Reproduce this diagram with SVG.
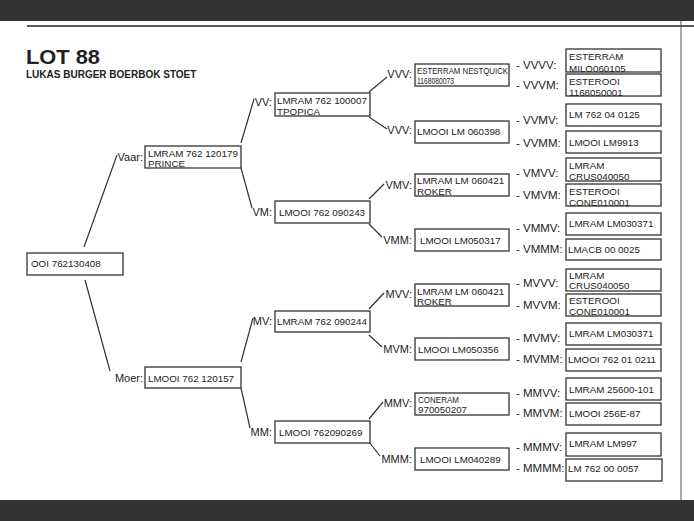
<svg xmlns="http://www.w3.org/2000/svg" width="694" height="521" viewBox="0 0 694 521">
<style>
text{font-family:"Liberation Sans",Arial,sans-serif;fill:#222}
.t{font-size:9.8px}
.l{font-size:11px}
.r{font-size:11.5px}
.b{fill:#fff;stroke:#333;stroke-width:1.3}
.c{stroke:#333;stroke-width:1.2;fill:none}
</style>
<rect x="0" y="0" width="694" height="21" fill="#333"/>
<rect x="0" y="500" width="694" height="21" fill="#333"/>
<line x1="27" y1="26" x2="694" y2="26" stroke="#222" stroke-width="1.5"/>
<line x1="681" y1="21" x2="681" y2="500" stroke="#555" stroke-width="1"/>
<text x="26" y="64" font-size="21" font-weight="bold" textLength="74" lengthAdjust="spacingAndGlyphs">LOT 88</text>
<text x="26" y="78" font-size="10" font-weight="bold">LUKAS BURGER BOERBOK STOET</text>

<g id="connectors" class="c">
<line x1="84" y1="247" x2="117" y2="155"/>
<line x1="85" y1="280" x2="110" y2="371"/>
<line x1="241" y1="143" x2="254" y2="99"/>
<line x1="241" y1="168" x2="252" y2="208"/>
<line x1="241" y1="362" x2="253" y2="318"/>
<line x1="241" y1="388" x2="250" y2="428"/>
<line x1="369" y1="92" x2="387" y2="77"/>
<line x1="369" y1="117" x2="387" y2="129"/>
<line x1="369" y1="199" x2="384" y2="184"/>
<line x1="369" y1="224" x2="382" y2="237"/>
<line x1="369" y1="309" x2="384" y2="293"/>
<line x1="369" y1="335" x2="382" y2="347"/>
<line x1="369" y1="419" x2="383" y2="402"/>
<line x1="369" y1="442" x2="380" y2="456"/>
</g>

<g id="root"><rect class="b" x="27" y="253" width="96" height="22"/><text class="t" x="31" y="267">OOI 762130408</text></g>

<g id="vaar"><text class="l" x="143" y="161" text-anchor="end">Vaar:</text><rect class="b" x="145" y="146" width="96" height="22"/><text class="t" x="148" y="157">LMRAM 762 120179</text><text class="t" x="148" y="167">PRINCE</text></g>
<g id="moer"><text class="l" x="143" y="382" text-anchor="end">Moer:</text><rect class="b" x="145" y="367" width="96" height="21"/><text class="t" x="148" y="382">LMOOI 762 120157</text></g>

<g id="vv"><text class="l" x="272" y="106" text-anchor="end">VV:</text><rect class="b" x="275" y="93" width="95" height="23"/><text class="t" x="277" y="104">LMRAM 762 100007</text><text class="t" x="277" y="115">TPOPICA</text></g>
<g id="vm"><text class="l" x="272" y="216" text-anchor="end">VM:</text><rect class="b" x="275" y="201" width="95" height="22"/><text class="t" x="279" y="216">LMOOI 762 090243</text></g>
<g id="mv"><text class="l" x="272" y="325" text-anchor="end">MV:</text><rect class="b" x="275" y="311" width="95" height="21"/><text class="t" x="277" y="325">LMRAM 762 090244</text></g>
<g id="mm"><text class="l" x="272" y="436" text-anchor="end">MM:</text><rect class="b" x="275" y="421" width="95" height="22"/><text class="t" x="279" y="436">LMOOI 762090269</text></g>

<g id="vvv"><text class="l" x="412" y="78" text-anchor="end">VVV:</text><rect class="b" x="415" y="64" width="94" height="22"/><text x="417" y="74" font-size="9.5" textLength="91" lengthAdjust="spacingAndGlyphs">ESTERRAM NESTQUICK</text><text x="417" y="84" font-size="9.5" textLength="37" lengthAdjust="spacingAndGlyphs">1168080073</text></g>
<g id="vvm"><text class="l" x="412" y="134" text-anchor="end">VVV:</text><rect class="b" x="415" y="121" width="94" height="22"/><text class="t" x="417" y="135">LMOOI LM 060398</text></g>
<g id="vmv"><text class="l" x="412" y="189" text-anchor="end">VMV:</text><rect class="b" x="415" y="174" width="94" height="22"/><text class="t" x="417" y="184">LMRAM LM 060421</text><text class="t" x="417" y="195">ROKER</text></g>
<g id="vmm"><text class="l" x="412" y="244" text-anchor="end">VMM:</text><rect class="b" x="415" y="229" width="94" height="22"/><text class="t" x="420" y="244">LMOOI LM050317</text></g>
<g id="mvv"><text class="l" x="412" y="298" text-anchor="end">MVV:</text><rect class="b" x="415" y="284" width="94" height="22"/><text class="t" x="417" y="295">LMRAM LM 060421</text><text class="t" x="417" y="305">ROKER</text></g>
<g id="mvm"><text class="l" x="412" y="353" text-anchor="end">MVM:</text><rect class="b" x="415" y="338" width="94" height="22"/><text class="t" x="418" y="353">LMOOI LM050356</text></g>
<g id="mmv"><text class="l" x="412" y="407" text-anchor="end">MMV:</text><rect class="b" x="415" y="393" width="94" height="22"/><text class="t" x="418" y="403" textLength="41" lengthAdjust="spacingAndGlyphs">CONERAM</text><text class="t" x="418" y="413">970050207</text></g>
<g id="mmm"><text class="l" x="412" y="463" text-anchor="end">MMM:</text><rect class="b" x="415" y="448" width="94" height="22"/><text class="t" x="420" y="463">LMOOI LM040289</text></g>

<g id="vvvv"><text class="r" x="516" y="69">- VVVV:</text><rect class="b" x="566" y="49" width="95" height="23"/><text class="t" x="569" y="60">ESTERRAM</text><text class="t" x="569" y="72">MILO060105</text></g>
<g id="vvvm"><text class="r" x="516" y="89">- VVVM:</text><rect class="b" x="566" y="74" width="95" height="22"/><text class="t" x="569" y="85">ESTEROOI</text><text class="t" x="569" y="96">1168050001</text></g>
<g id="vvmv"><text class="r" x="516" y="124">- VVMV:</text><rect class="b" x="566" y="104" width="95" height="22"/><text class="t" x="569" y="118">LM 762 04 0125</text></g>
<g id="vvmm"><text class="r" x="516" y="147">- VVMM:</text><rect class="b" x="566" y="131" width="95" height="22"/><text class="t" x="569" y="146">LMOOI LM9913</text></g>
<g id="vmvv"><text class="r" x="516" y="177">- VMVV:</text><rect class="b" x="566" y="158" width="95" height="23"/><text class="t" x="569" y="169">LMRAM</text><text class="t" x="569" y="180">CRUS040050</text></g>
<g id="vmvm"><text class="r" x="516" y="199">- VMVM:</text><rect class="b" x="566" y="184" width="95" height="22"/><text class="t" x="569" y="195">ESTEROOI</text><text class="t" x="569" y="206">CONE010001</text></g>
<g id="vmmv"><text class="r" x="516" y="232">- VMMV:</text><rect class="b" x="566" y="213" width="95" height="22"/><text class="t" x="569" y="227">LMRAM LM030371</text></g>
<g id="vmmm"><text class="r" x="516" y="253">- VMMM:</text><rect class="b" x="566" y="239" width="95" height="21"/><text class="t" x="568" y="253">LMACB 00 0025</text></g>
<g id="mvvv"><text class="r" x="516" y="287">- MVVV:</text><rect class="b" x="566" y="269" width="95" height="22"/><text class="t" x="569" y="279">LMRAM</text><text class="t" x="569" y="289">CRUS040050</text></g>
<g id="mvvm"><text class="r" x="516" y="309">- MVVM:</text><rect class="b" x="566" y="294" width="95" height="22"/><text class="t" x="569" y="304">ESTEROOI</text><text class="t" x="569" y="315">CONE010001</text></g>
<g id="mvmv"><text class="r" x="516" y="342">- MVMV:</text><rect class="b" x="566" y="323" width="95" height="22"/><text class="t" x="569" y="337">LMRAM LM030371</text></g>
<g id="mvmm"><text class="r" x="516" y="363">- MVMM:</text><rect class="b" x="566" y="349" width="95" height="22"/><text class="t" x="568" y="363">LMOOI 762 01 0211</text></g>
<g id="mmvv"><text class="r" x="516" y="397">- MMVV:</text><rect class="b" x="566" y="378" width="95" height="22"/><text class="t" x="569" y="393">LMRAM 25600-101</text></g>
<g id="mmvm"><text class="r" x="516" y="417">- MMVM:</text><rect class="b" x="566" y="403" width="95" height="22"/><text class="t" x="569" y="417">LMOOI 256E-87</text></g>
<g id="mmmv"><text class="r" x="516" y="451">- MMMV:</text><rect class="b" x="566" y="433" width="95" height="23"/><text class="t" x="569" y="447">LMRAM LM997</text></g>
<g id="mmmm"><text class="r" x="516" y="472">- MMMM:</text><rect class="b" x="566" y="459" width="96" height="22"/><text class="t" x="568" y="472">LM 762 00 0057</text></g>
</svg>
